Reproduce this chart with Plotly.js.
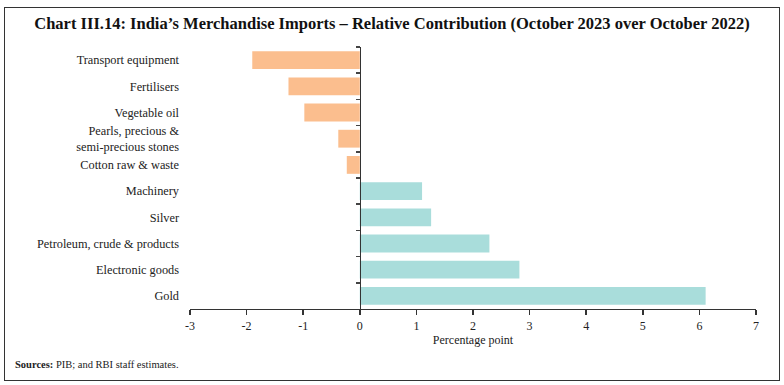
<!DOCTYPE html>
<html>
<head>
<meta charset="utf-8">
<script src="https://cdn.plot.ly/plotly-3.0.1.min.js"></script>
<style>
  html, body { margin: 0; padding: 0; background: #fff; }
  #wrap { position: relative; width: 784px; height: 385px; }
  #chart { position: absolute; left: 0; top: 0; width: 784px; height: 385px; }
  #frame { position: absolute; left: 4px; top: 7px; width: 774px; height: 372px; border: 1.5px solid #333; pointer-events: none; }
</style>
</head>
<body>
<div id="wrap">
  <div id="chart"></div>
  <div id="frame"></div>
</div>
<script>
const categories = [
  "Transport equipment",
  "Fertilisers",
  "Vegetable oil",
  "Pearls, precious &<br>semi-precious stones",
  "Cotton raw & waste",
  "Machinery",
  "Silver",
  "Petroleum, crude & products",
  "Electronic goods",
  "Gold"
];
const values = [-1.90, -1.26, -0.98, -0.38, -0.23, 1.10, 1.26, 2.29, 2.82, 6.11];
const xTicks = [-3, -2, -1, 0, 1, 2, 3, 4, 5, 6, 7];

const colors = values.map(v => v < 0 ? "#FBBE8E" : "#A9DDDB");
const serif = "Liberation Serif, DejaVu Serif, serif";

const trace = {
  type: "bar",
  orientation: "h",
  x: values,
  y: categories,
  marker: { color: colors },
  width: 0.68,
  hoverinfo: "skip",
  yaxis: "y"
};
const ghost = {
  type: "bar",
  orientation: "h",
  x: values,
  y: categories,
  marker: { color: "rgba(0,0,0,0)" },
  width: 0.68,
  hoverinfo: "skip",
  yaxis: "y2",
  showlegend: false
};

const layout = {
  width: 784,
  height: 385,
  margin: { l: 190, r: 28, t: 47, b: 76 },
  paper_bgcolor: "#fff",
  plot_bgcolor: "#fff",
  showlegend: false,
  title: {
    text: "Chart III.14: India’s Merchandise Imports – Relative Contribution (October 2023 over October 2022)",
    font: { family: serif, size: 16.5, color: "#111", weight: "bold" },
    x: 0.5, xanchor: "center", y: 0.94, yanchor: "middle"
  },
  xaxis: {
    range: [-3, 7],
    tickvals: xTicks,
    ticktext: xTicks.map(String),
    showgrid: false,
    zeroline: false,
    showline: true,
    linecolor: "#333",
    linewidth: 1.3,
    ticks: "outside",
    ticklen: 5,
    tickwidth: 1.5,
    tickcolor: "#333",
    tickfont: { family: serif, size: 12, color: "#222" },
    title: { text: "Percentage point", font: { family: serif, size: 12, color: "#222" }, standoff: 4 },
    fixedrange: true
  },
  yaxis: {
    type: "category",
    categoryorder: "array",
    categoryarray: categories,
    autorange: "reversed",
    showgrid: false,
    zeroline: false,
    showline: false,
    ticks: "",
    ticklabelstandoff: 10,
    tickfont: { family: serif, size: 12.3, color: "#222" },
    fixedrange: true
  },
  yaxis2: {
    type: "category",
    categoryorder: "array",
    categoryarray: categories,
    autorange: "reversed",
    overlaying: "y",
    anchor: "free",
    position: 0.3,
    side: "left",
    showgrid: false,
    zeroline: false,
    showline: true,
    linecolor: "#333",
    linewidth: 1.3,
    ticks: "outside",
    tickson: "boundaries",
    ticklen: 4,
    tickwidth: 1.5,
    tickcolor: "#444",
    showticklabels: false,
    fixedrange: true
  },
  bargap: 0.32,
  annotations: [
    {
      xref: "paper", yref: "paper",
      x: -0.313, y: -0.21,
      xanchor: "left", yanchor: "middle",
      showarrow: false,
      text: "<b>Sources:</b> PIB; and RBI staff estimates.",
      font: { family: serif, size: 10.5, color: "#222" }
    }
  ]
};

Plotly.newPlot("chart", [trace, ghost], layout, { displayModeBar: false, staticPlot: true });
</script>
</body>
</html>
